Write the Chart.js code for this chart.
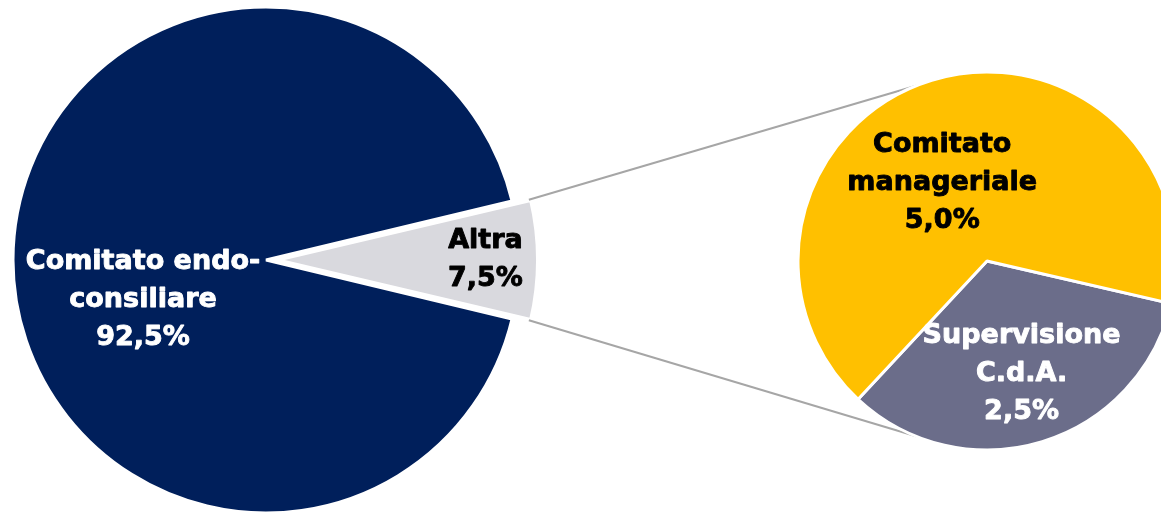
<!DOCTYPE html>
<html>
<head>
<meta charset="utf-8">
<script src="https://cdn.jsdelivr.net/npm/chart.js@4.4.1/dist/chart.umd.min.js"></script>
<style>
html, body { margin: 0; padding: 0; background: #fff; }
#wrap { position: relative; width: 1161px; height: 514px; overflow: hidden; }
#wrap canvas { position: absolute; left: 0; top: 0; }
</style>
</head>
<body>
<div id="wrap">
  <canvas id="mainPie" width="1161" height="514"></canvas>
  <canvas id="subPie" width="1161" height="514"></canvas>
</div>
<script>
// main pie
var mainLabels = [['Comitato endo-', 'consiliare'], ['Altra']];
var mainValues = [92.5, 7.5];
var mainColors = ['#001F5B', '#D9D9DE'];
var mainText = ['#FFFFFF', '#000000'];

// second pie = breakdown of "Altra"
var subLabels = [['Supervisione', 'C.d.A.'], ['Comitato', 'manageriale']];
var subValues = [2.5, 5.0];
var subColors = ['#6B6D8A', '#FFC000'];
var subText = ['#FFFFFF', '#000000'];

function pct(v) {
  return v.toFixed(1).replace('.', ',') + '%';
}

// draws the multi-line labels inside the slices
function sliceLabels(textColors, radial, nudge) {
  return {
    id: 'sliceLabels',
    afterDatasetsDraw: function (chart) {
      var ctx = chart.ctx;
      var meta = chart.getDatasetMeta(0);
      var values = chart.data.datasets[0].data;
      ctx.save();
      ctx.font = 'bold 27px "DejaVu Sans"';
      ctx.textAlign = 'center';
      ctx.textBaseline = 'middle';
      ctx.lineWidth = 0.9;
      ctx.lineJoin = 'round';
      meta.data.forEach(function (arc, i) {
        var mid = (arc.startAngle + arc.endAngle) / 2;
        var shift = (arc.options.offset || 0) / 4;
        var d = shift + radial[i] * arc.outerRadius;
        var x = arc.x + Math.cos(mid) * d + nudge[i][0];
        var y = arc.y + Math.sin(mid) * d + nudge[i][1];
        var lines = [].concat(chart.data.labels[i], pct(values[i]));
        ctx.fillStyle = textColors[i];
        ctx.strokeStyle = textColors[i];
        lines.forEach(function (t, k) {
          var ty = y + (k - (lines.length - 1) / 2) * 38;
          ctx.fillText(t, x, ty);
          ctx.strokeText(t, x, ty);
        });
      });
      ctx.restore();
    }
  };
}

var total = mainValues.reduce(function (a, b) { return a + b; }, 0);

var mainChart = new Chart(document.getElementById('mainPie'), {
  type: 'pie',
  data: {
    labels: mainLabels,
    datasets: [{
      data: mainValues,
      backgroundColor: mainColors,
      borderColor: '#FFFFFF',
      borderWidth: 3,
      offset: [0, 48]
    }]
  },
  options: {
    responsive: false,
    animation: false,
    events: [],
    rotation: 90 + mainValues[1] / total * 180,
    radius: 253,
    layout: { padding: { left: 0, right: 629, top: 6, bottom: 0 } },
    plugins: { legend: { display: false }, tooltip: { enabled: false } }
  },
  plugins: [sliceLabels(mainText, [0.486, 0.82], [[0, 40], [0, 0]])]
});

// grey lines from the "Altra" slice to the second pie
var connectors = {
  id: 'connectors',
  beforeDatasetsDraw: function (chart) {
    var arc = mainChart.getDatasetMeta(0).data[1];
    var mid = (arc.startAngle + arc.endAngle) / 2;
    var shift = arc.options.offset / 4;
    var ox = arc.x + Math.cos(mid) * shift;
    var oy = arc.y + Math.sin(mid) * shift;
    var r = arc.outerRadius;
    var sub = chart.getDatasetMeta(0).data[0];
    var R = sub.outerRadius;
    var pairs = [[arc.startAngle, -112], [arc.endAngle, 112]];
    var ctx = chart.ctx;
    ctx.save();
    ctx.strokeStyle = '#A6A6A6';
    ctx.lineWidth = 2;
    pairs.forEach(function (p) {
      var a = p[1] * Math.PI / 180;
      ctx.beginPath();
      ctx.moveTo(ox + Math.cos(p[0]) * (r + 5), oy + Math.sin(p[0]) * (r + 5));
      ctx.lineTo(sub.x + Math.cos(a) * R, sub.y + Math.sin(a) * R);
      ctx.stroke();
    });
    ctx.restore();
  }
};

var subChart = new Chart(document.getElementById('subPie'), {
  type: 'pie',
  data: {
    labels: subLabels,
    datasets: [{
      data: subValues,
      backgroundColor: subColors,
      borderColor: '#FFFFFF',
      borderWidth: 3
    }]
  },
  options: {
    responsive: false,
    animation: false,
    events: [],
    rotation: 103,
    radius: 189,
    layout: { padding: { left: 813, right: 0, top: 8, bottom: 0 } },
    plugins: { legend: { display: false }, tooltip: { enabled: false } }
  },
  plugins: [connectors, sliceLabels(subText, [0.625, 0.43], [[0, 0], [-21, 0]])]
});
</script>
</body>
</html>
